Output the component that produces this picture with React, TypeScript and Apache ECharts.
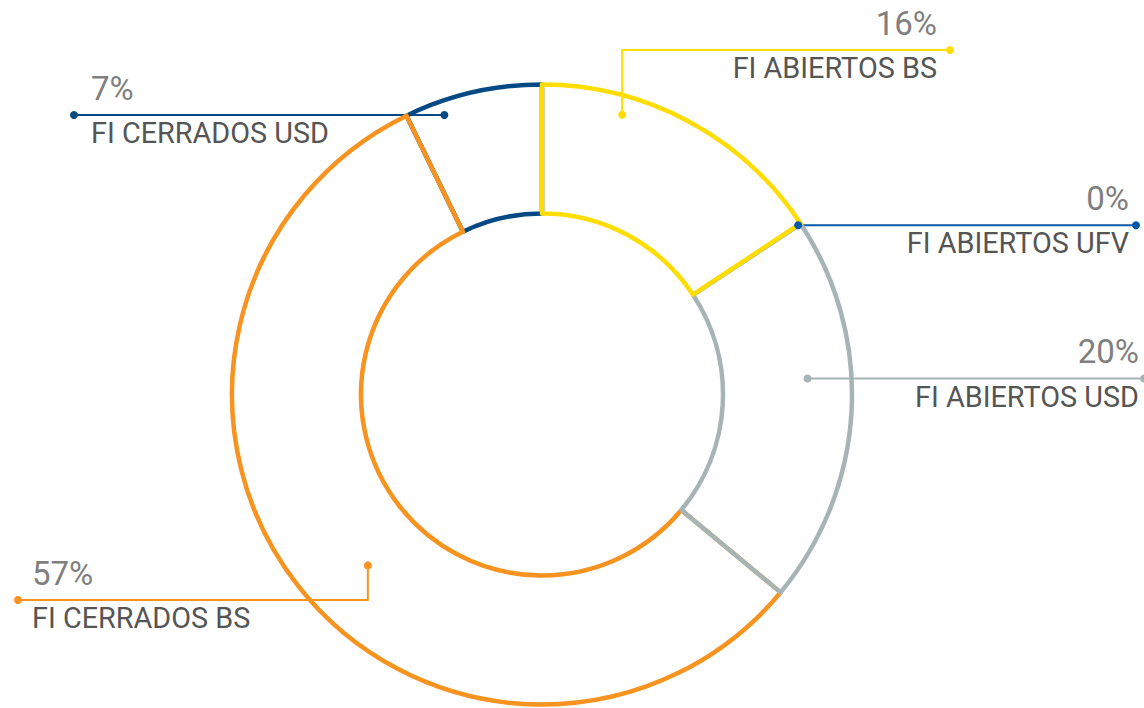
import React, { useEffect, useRef } from "react";
import * as echarts from "echarts";

const NAMES = ["FI ABIERTOS BS", "FI ABIERTOS UFV", "FI ABIERTOS USD", "FI CERRADOS BS", "FI CERRADOS USD"];
const VALUES = [15.7, 0.03, 20.3, 56.8, 7.2];
const COLORS = ["#FFDD00", "#0057A8", "#A7B4B6", "#F7931E", "#034A85"];

// layout of the ring and of the label callouts (positions only)
const CX = 542;
const CY = 394.5;
const R_IN = 181;
const R_OUT = 310;
type LabelPos = { frac: number; r: number; lineY: number | null; endX: number; textX: number; side: "left" | "right" };
const LABEL_POS: LabelPos[] = [
  { frac: 0.283, r: 291, lineY: 50, endX: 950, textX: 937, side: "right" },
  { frac: 0.5, r: 307, lineY: null, endX: 1136, textX: 1129, side: "right" },
  { frac: 0.41, r: 266, lineY: null, endX: 1144, textX: 1139, side: "right" },
  { frac: 0.469, r: 244, lineY: 600, endX: 18, textX: 32, side: "left" },
  { frac: 0.257, r: 296, lineY: null, endX: 74, textX: 91, side: "left" },
];

export default function App() {
  const ref = useRef<HTMLDivElement>(null);
  useEffect(() => {
    if (!ref.current) return;
    const chart = echarts.init(ref.current, undefined, { renderer: "svg" });
    const total = VALUES.reduce((a, b) => a + b, 0);
    let cum = 0;
    const geo = VALUES.map((v, i) => {
      const start = (cum / total) * 360;
      const span = (v / total) * 360;
      cum += v;
      const lp = LABEL_POS[i];
      const ang = ((start + lp.frac * span) * Math.PI) / 180;
      const ax = CX + lp.r * Math.sin(ang);
      const ay = CY - lp.r * Math.cos(ang);
      const ly = lp.lineY == null ? ay : lp.lineY;
      const pts = lp.lineY == null ? [[ax, ay], [lp.endX, ay]] : [[ax, ay], [ax, ly], [lp.endX, ly]];
      return { ax, ay, ly, pts };
    });
    const N = VALUES.length;
    // reversed so that the first slices are drawn on top; counter-clockwise keeps the arrangement
    const data = VALUES.map((v, i) => ({
      name: NAMES[i],
      value: v,
      itemStyle: { color: "rgba(255,255,255,0)", borderColor: COLORS[i], borderWidth: i === 1 ? 0 : 4.5 },
      labelLine: { lineStyle: { color: COLORS[i], width: 2 } },
    })).reverse();

    const dots: any[] = [];
    geo.forEach((g, i) => {
      dots.push({ type: "circle", shape: { cx: g.ax, cy: g.ay, r: 4 }, style: { fill: COLORS[i] }, z: 100 });
      const last = g.pts[g.pts.length - 1];
      dots.push({ type: "circle", shape: { cx: last[0], cy: last[1], r: 4 }, style: { fill: COLORS[i] }, z: 100 });
    });

    chart.setOption({
      animation: false,
      graphic: dots,
      series: [
        {
          type: "pie",
          center: [CX, CY],
          radius: [R_IN, R_OUT],
          startAngle: 90,
          clockwise: false,
          silent: true,
          avoidLabelOverlap: false,
          emphasis: { disabled: true },
          label: {
            show: true,
            position: "outside",
            formatter: (p: any) => `{p|${Math.round((p.value / total) * 100)}%}\n{n|${p.name}}`,
            rich: {
              p: { fontFamily: "Roboto", fontSize: 33, lineHeight: 54, color: "#7F7F7F" },
              n: { fontFamily: "Roboto", fontSize: 28.8, lineHeight: 36, color: "#555555" },
            },
          },
          labelLine: { show: true },
          labelLayout: (params: any) => {
            const i = N - 1 - params.dataIndex;
            const lp = LABEL_POS[i];
            const g = geo[i];
            return {
              x: lp.textX,
              y: g.ly - 54,
              align: lp.side === "right" ? "right" : "left",
              verticalAlign: "top",
              labelLinePoints: g.pts,
            };
          },
          data,
        },
      ],
    });
    return () => chart.dispose();
  }, []);
  return <div ref={ref} style={{ position: "absolute", left: 0, top: 0, width: 1144, height: 708 }} />;
}
